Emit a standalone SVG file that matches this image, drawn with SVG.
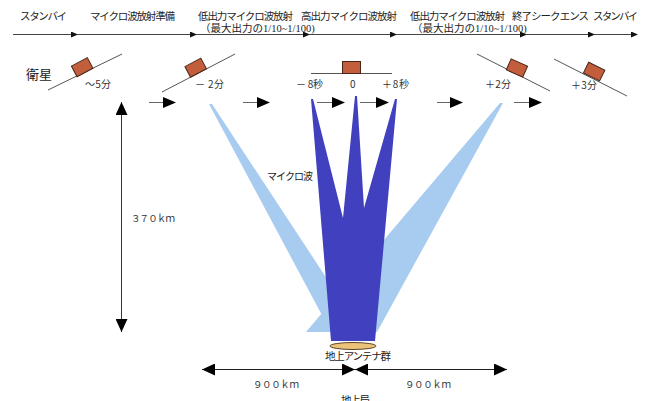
<svg xmlns="http://www.w3.org/2000/svg" width="651" height="401" viewBox="0 0 651 401">
  <style>
    text { font-family: "Noto Sans CJK JP", "Noto Sans", sans-serif; fill: #222; }
    .phase { font-size: 10.5px; }
    .sub { font-size: 10.5px; }
    .num { font-family: "Liberation Serif", "Noto Sans CJK JP", serif; }
    .tick { font-size: 10px; fill: #333; }
    .dist { font-size: 9.5px; fill: #333; }
    .tl { stroke: #444; stroke-width: 1; fill: none; }
    .orbit { stroke: #555; stroke-width: 1; fill: none; }
    .sat { fill: #C35E3D; stroke: #4A2618; stroke-width: 1; }
    .thin { stroke: #666; stroke-width: 1; fill: none; }
    .head { fill: #000; }
    .beam-lo { fill: #A8CBF0; }
    .beam-hi { fill: #4141C0; }
  </style>
  <defs>
    <marker id="tlHead" markerWidth="7" markerHeight="6" refX="6" refY="3" orient="auto" markerUnits="userSpaceOnUse">
      <path d="M0,0 L7,3 L0,6 Z" fill="#111"/>
    </marker>
    <marker id="bigHead" markerWidth="13" markerHeight="12" refX="13" refY="6" orient="auto-start-reverse" markerUnits="userSpaceOnUse">
      <path d="M0,0 L13,6 L0,12 Z" fill="#000"/>
    </marker>
  </defs>

  <!-- phase labels along the time axis -->
  <g id="phases">
    <text class="phase" x="20" y="20" textLength="47">スタンバイ</text>
    <text class="phase" x="90" y="20" textLength="85">マイクロ波放射準備</text>
    <text class="phase" x="198" y="20" textLength="95">低出力マイクロ波放射</text>
    <text class="sub" x="200" y="32">（最大出力の<tspan class="num">1/10~1/100)</tspan></text>
    <text class="phase" x="301" y="20" textLength="96">高出力マイクロ波放射</text>
    <text class="phase" x="410" y="20" textLength="95">低出力マイクロ波放射</text>
    <text class="sub" x="412" y="32">（最大出力の<tspan class="num">1/10~1/100)</tspan></text>
    <text class="phase" x="512" y="20" textLength="77">終了シークエンス</text>
    <text class="phase" x="593" y="20" textLength="45">スタンバイ</text>
  </g>

  <!-- connectors -->
  <g id="connectors">
    <!-- time axis segments -->
    <line class="tl" x1="13" y1="34.5" x2="77" y2="34.5" marker-end="url(#tlHead)"/>
    <line class="tl" x1="77" y1="34.5" x2="196" y2="34.5" marker-end="url(#tlHead)"/>
    <line class="tl" x1="196" y1="34.5" x2="309" y2="34.5" marker-end="url(#tlHead)"/>
    <line class="tl" x1="309" y1="34.5" x2="396" y2="34.5" marker-end="url(#tlHead)"/>
    <line class="tl" x1="396" y1="34.5" x2="526" y2="34.5" marker-end="url(#tlHead)"/>
    <line class="tl" x1="526" y1="34.5" x2="594" y2="34.5" marker-end="url(#tlHead)"/>
    <line class="tl" x1="594" y1="34.5" x2="637" y2="34.5" marker-end="url(#tlHead)"/>

    <!-- motion arrows -->
    <line class="thin" x1="149" y1="102.5" x2="164" y2="102.5"/>
    <path class="head" d="M163,97 L176,102.5 L163,108 Z"/>
    <line class="thin" x1="243" y1="102.5" x2="258" y2="102.5"/>
    <path class="head" d="M257,97 L270,102.5 L257,108 Z"/>
    <line class="thin" x1="317" y1="102.5" x2="333" y2="102.5"/>
    <path class="head" d="M332,97 L345,102.5 L332,108 Z"/>
    <line class="thin" x1="360" y1="102.5" x2="377" y2="102.5"/>
    <path class="head" d="M376,97 L389,102.5 L376,108 Z"/>
    <line class="thin" x1="437" y1="102.5" x2="451" y2="102.5"/>
    <path class="head" d="M450,97 L463,102.5 L450,108 Z"/>
    <line class="thin" x1="514" y1="102.5" x2="530" y2="102.5"/>
    <path class="head" d="M529,97 L542,102.5 L529,108 Z"/>

    <!-- altitude -->
    <line x1="121.5" y1="102" x2="121.5" y2="332" stroke="#333" stroke-width="1" marker-start="url(#bigHead)" marker-end="url(#bigHead)"/>

    <!-- ground range -->
    <line x1="202" y1="369.5" x2="355" y2="369.5" stroke="#222" stroke-width="1" marker-start="url(#bigHead)" marker-end="url(#bigHead)"/>
    <line x1="355" y1="369.5" x2="507" y2="369.5" stroke="#222" stroke-width="1" marker-start="url(#bigHead)" marker-end="url(#bigHead)"/>
  </g>

  <!-- satellite positions -->
  <g id="satellite-label">
    <text x="26" y="79" font-size="13">衛星</text>
  </g>
  <g id="sat-m5">
    <line class="orbit" x1="48" y1="90" x2="122" y2="54"/>
    <rect class="sat" x="-9" y="-12" width="18" height="12" transform="translate(85,72.5) rotate(-28)"/>
    <text class="tick" x="85" y="88" textLength="26">～5分</text>
  </g>
  <g id="sat-m2">
    <line class="orbit" x1="162" y1="92" x2="235" y2="54"/>
    <rect class="sat" x="-9" y="-12" width="18" height="12" transform="translate(198.5,73) rotate(-28)"/>
    <text class="tick" x="195" y="88" textLength="29">－ 2分</text>
  </g>
  <g id="sat-0">
    <line class="orbit" x1="311" y1="73.5" x2="392" y2="73.5"/>
    <rect class="sat" x="342.5" y="61.5" width="18" height="12"/>
    <text class="tick" x="296" y="88" textLength="27">－ 8秒</text>
    <text class="tick" x="350" y="88">0</text>
    <text class="tick" x="382" y="88" textLength="27">＋8秒</text>
  </g>
  <g id="sat-p2">
    <line class="orbit" x1="477" y1="54" x2="550" y2="91"/>
    <rect class="sat" x="-9" y="-12" width="18" height="12" transform="translate(514.5,73.5) rotate(24)"/>
    <text class="tick" x="485" y="88" textLength="26">＋2分</text>
  </g>
  <g id="sat-p3">
    <line class="orbit" x1="554" y1="59" x2="627" y2="96"/>
    <rect class="sat" x="-9" y="-12" width="18" height="12" transform="translate(591.5,77) rotate(26)"/>
    <text class="tick" x="571" y="89" textLength="26">＋3分</text>
  </g>

  <!-- microwave beams -->
  <g id="beams">
    <polygon class="beam-lo" points="209,104 212,104 362,332 331,332"/>
    <polygon class="beam-lo" points="500,103 503,103 377,332 306,332"/>
    <polygon class="beam-hi" points="311,99 313,99 343,218 355,96 357,96 364,208 395,99 397,99 375,341 331,341"/>
    <text x="267" y="180" font-size="10" textLength="46">マイクロ波</text>
  </g>

  <!-- ground antenna array -->
  <g id="antenna">
    <ellipse cx="353" cy="346" rx="23" ry="3.5" fill="#EBC27A" stroke="#5C4326" stroke-width="1"/>
    <text x="325" y="360" font-size="10.5" textLength="66">地上アンテナ群</text>
  </g>

  <!-- measurements -->
  <g id="labels">
    <text class="dist" x="131" y="222" textLength="44">３７０ｋｍ</text>
    <text class="dist" x="253" y="388" textLength="46">９００ｋｍ</text>
    <text class="dist" x="405" y="388" textLength="46">９００ｋｍ</text>
    <text x="341" y="404" font-size="10.5" textLength="29">地上局</text>
  </g>
</svg>
